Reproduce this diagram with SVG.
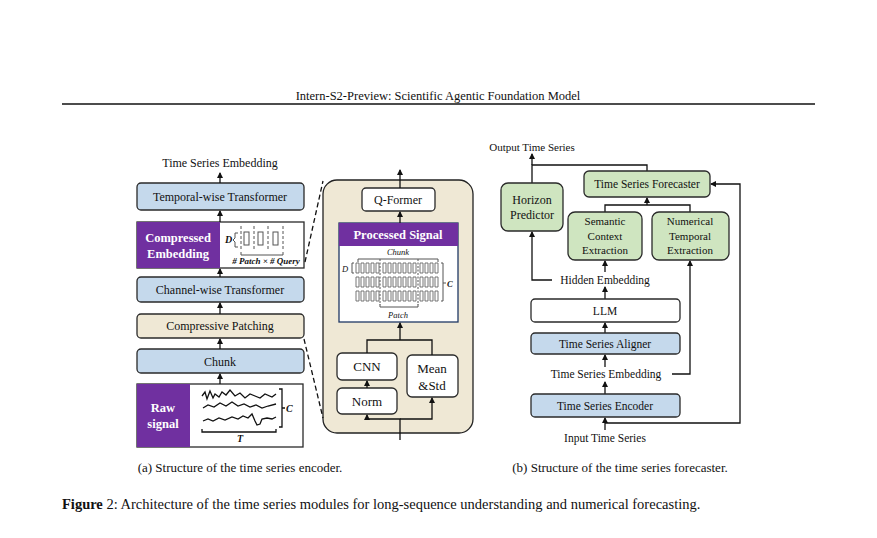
<svg xmlns="http://www.w3.org/2000/svg" width="877" height="538" viewBox="0 0 877 538">
<style>
text{font-family:"Liberation Serif",serif;fill:#111}
.t{font-size:12px;text-anchor:middle}
.b{stroke:#2a2a2a;stroke-width:1.3}
.blue{fill:#c5d9ec}
.bei{fill:#efe8d5}
.grn{fill:#cfe5c0}
.wh{fill:#fff}
.pur{fill:#7030a0}
.ln{fill:none;stroke:#111;stroke-width:1.3}
.sq{fill:none;stroke:#555;stroke-width:1}
.wt{fill:#fff;font-weight:bold;font-size:12.5px;text-anchor:middle}
</style>
<defs><marker id="a" markerWidth="6" markerHeight="6" refX="5" refY="3" orient="auto" markerUnits="userSpaceOnUse"><path d="M0,0 L6,3 L0,6z" fill="#111"/></marker></defs>
<rect width="877" height="538" fill="#fff"/>
<text x="438" y="100" class="t" style="font-size:12.5px">Intern-S2-Preview: Scientific Agentic Foundation Model</text>
<line x1="62" y1="104" x2="815" y2="104" stroke="#111" stroke-width="1.5"/>

<g id="left">
<text x="220" y="167" class="t">Time Series Embedding</text>
<g id="temporal"><rect class="b blue" x="137" y="183" width="167" height="27" rx="4"/><text x="220" y="201" class="t">Temporal-wise Transformer</text></g>
<g id="compressed"><rect class="b wh" x="137" y="222" width="167" height="46" stroke="#1f3864"/><rect class="pur" x="137" y="222" width="83" height="46"/>
<text x="178" y="242" class="wt">Compressed</text><text x="178" y="258" class="wt">Embedding</text>
<text x="225" y="243" style="font-size:10px;font-style:italic;font-weight:bold">D</text>
<path class="sq" d="M238,233 h-3 v5 l-2,2 l2,2 v5 h3"/>
<g class="sq" stroke-dasharray="3,2"><line x1="241" y1="226" x2="241" y2="250"/><line x1="254" y1="226" x2="254" y2="250"/><line x1="268" y1="226" x2="268" y2="250"/><line x1="283" y1="226" x2="283" y2="250"/></g>
<rect class="sq" x="244" y="232" width="5" height="13"/><rect class="sq" x="258" y="232" width="5" height="13"/><rect class="sq" x="273" y="232" width="5" height="13"/>
<path class="sq" d="M241,252 v3 h42 v-3"/>
<text x="266" y="264" class="t" style="font-size:9px;font-style:italic;font-weight:bold"># Patch × # Query</text></g>
<g id="channel"><rect class="b blue" x="137" y="277" width="167" height="25" rx="4"/><text x="220" y="294" class="t">Channel-wise Transformer</text></g>
<g id="patching"><rect class="b bei" x="137" y="314" width="167" height="24" rx="4"/><text x="220" y="330" class="t">Compressive Patching</text></g>
<g id="chunk"><rect class="b blue" x="137" y="349" width="167" height="24" rx="4"/><text x="220" y="366" class="t">Chunk</text></g>
<g id="raw"><rect class="b wh" x="137" y="384" width="166" height="63" stroke="#1f3864"/><rect class="pur" x="137" y="384" width="53" height="63"/>
<text x="163" y="412" class="wt">Raw</text><text x="163" y="428" class="wt">signal</text>
<polyline class="ln" stroke-width="1.2" points="202,396 205,392 207,399 210,391 213,398 215,394 219,397 222,392 226,395 230,390 235,396 240,393 245,398 250,394 255,396 260,398 265,394 272,397 276,394"/>
<polyline class="ln" stroke-width="1.2" points="203,408 208,405 214,407 220,403 226,406 232,402 238,406 244,404 250,407 256,405 262,408 268,406 276,404"/>
<polyline class="ln" stroke-width="1.2" points="203,421 208,419 213,421 219,418 225,420 232,417 238,419 243,416 248,418 252,414 255,421 257,425 260,424 262,419 267,418 272,419 276,417"/>
<path class="ln" stroke-width="1" d="M279,389 h3 v38 h-3 M282,408 h3"/>
<text x="286" y="412" style="font-size:10px;font-style:italic;font-weight:bold">C</text>
<path class="ln" stroke-width="1" d="M202,429 v3 h74 v-3"/>
<text x="240" y="442" class="t" style="font-size:10px;font-style:italic;font-weight:bold">T</text></g>
</g>

<g id="right-panel">
<rect x="323" y="180" width="150" height="253" rx="14" class="bei" stroke="#222" stroke-width="1.3"/>
<g id="qformer"><rect class="b wh" x="362" y="188" width="73" height="23" rx="4"/><text x="398" y="204" class="t">Q-Former</text></g>
<g id="processed"><rect x="339" y="223" width="119" height="99" class="wh" stroke="#1f3864" stroke-width="1.3"/><rect class="pur" x="339" y="223" width="119" height="23"/>
<text x="398" y="239" class="wt">Processed Signal</text>
<text x="398" y="255" class="t" style="font-size:8.5px;font-style:italic">Chunk</text>
<path class="sq" d="M358,262 v-3 h80 v3"/>
<text x="342" y="272" style="font-size:8.5px;font-style:italic">D</text>
<path class="sq" d="M354,263 h-2 v10 h2"/>
<g class="sq" stroke-dasharray="2,1.5"><line x1="380" y1="259" x2="380" y2="305"/><line x1="418" y1="259" x2="418" y2="305"/></g>
<g id="cells" fill="none" stroke="#666" stroke-width="0.9">
<path d="M356,263h3v10h-3zM361,263h3v10h-3zM366,263h3v10h-3zM371,263h3v10h-3zM376,263h3v10h-3zM383,263h3v10h-3zM388,263h3v10h-3zM393,263h3v10h-3zM398,263h3v10h-3zM403,263h3v10h-3zM408,263h3v10h-3zM413,263h3v10h-3zM420,263h3v10h-3zM425,263h3v10h-3zM430,263h3v10h-3zM435,263h3v10h-3z"/>
<path d="M356,277h3v10h-3zM361,277h3v10h-3zM366,277h3v10h-3zM371,277h3v10h-3zM376,277h3v10h-3zM383,277h3v10h-3zM388,277h3v10h-3zM393,277h3v10h-3zM398,277h3v10h-3zM403,277h3v10h-3zM408,277h3v10h-3zM413,277h3v10h-3zM420,277h3v10h-3zM425,277h3v10h-3zM430,277h3v10h-3zM435,277h3v10h-3z"/>
<path d="M356,291h3v10h-3zM361,291h3v10h-3zM366,291h3v10h-3zM371,291h3v10h-3zM376,291h3v10h-3zM383,291h3v10h-3zM388,291h3v10h-3zM393,291h3v10h-3zM398,291h3v10h-3zM403,291h3v10h-3zM408,291h3v10h-3zM413,291h3v10h-3zM420,291h3v10h-3zM425,291h3v10h-3zM430,291h3v10h-3zM435,291h3v10h-3z"/>
</g>
<path class="sq" d="M441,263 h2 v38 h-2 M443,283 h3"/>
<text x="447" y="287" style="font-size:8.5px;font-style:italic;font-weight:bold">C</text>
<path class="sq" d="M380,304 v3 h38 v-3"/>
<text x="398" y="318" class="t" style="font-size:8.5px;font-style:italic">Patch</text></g>
<g id="cnn"><rect class="b wh" x="337" y="353" width="60" height="27" rx="5"/><text x="367" y="371" class="t" style="font-size:13px">CNN</text></g>
<g id="norm"><rect class="b wh" x="337" y="388" width="60" height="26" rx="5"/><text x="367" y="406" class="t" style="font-size:13px">Norm</text></g>
<g id="meanstd"><rect class="b wh" x="407" y="355" width="51" height="42" rx="5"/><text x="432" y="373" class="t" style="font-size:13px">Mean</text><text x="432" y="390" class="t" style="font-size:13px">&amp;Std</text></g>
</g>

<g id="connectors">
<line class="ln" x1="220" y1="183" x2="220" y2="173" marker-end="url(#a)"/>
<line class="ln" x1="220" y1="222" x2="220" y2="211" marker-end="url(#a)"/>
<line class="ln" x1="220" y1="277" x2="220" y2="269" marker-end="url(#a)"/>
<line class="ln" x1="220" y1="314" x2="220" y2="303" marker-end="url(#a)"/>
<line class="ln" x1="220" y1="349" x2="220" y2="339" marker-end="url(#a)"/>
<line class="ln" x1="220" y1="384" x2="220" y2="374" marker-end="url(#a)"/>
<line x1="305" y1="262" x2="323" y2="181" stroke="#111" stroke-width="1.3" stroke-dasharray="5,3"/>
<line x1="304" y1="339" x2="323" y2="418" stroke="#111" stroke-width="1.3" stroke-dasharray="5,3"/>
<line class="ln" x1="400" y1="188" x2="400" y2="170" marker-end="url(#a)"/>
<line class="ln" x1="400" y1="223" x2="400" y2="212" marker-end="url(#a)"/>
<path class="ln" d="M367,353 V340 H432 V355"/>
<line class="ln" x1="400" y1="340" x2="400" y2="323" marker-end="url(#a)"/>
<line class="ln" x1="367" y1="388" x2="367" y2="381" marker-end="url(#a)"/>
<path class="ln" d="M400,440 V419 H367 V415" marker-end="url(#a)"/>
<path class="ln" d="M400,419 H432 V398" marker-end="url(#a)"/>

<path class="ln" d="M532,183 V165 H647 V171"/>
<line class="ln" x1="532" y1="165" x2="532" y2="154" marker-end="url(#a)"/>
<path class="ln" d="M605,212 V205 H690 V212"/>
<line class="ln" x1="647" y1="205" x2="647" y2="198" marker-end="url(#a)"/>
<line class="ln" x1="605" y1="272" x2="605" y2="261" marker-end="url(#a)"/>
<path class="ln" d="M552,280 H532 V232" marker-end="url(#a)"/>
<line class="ln" x1="605" y1="299" x2="605" y2="287" marker-end="url(#a)"/>
<line class="ln" x1="605" y1="333" x2="605" y2="323" marker-end="url(#a)"/>
<line class="ln" x1="605" y1="367" x2="605" y2="355" marker-end="url(#a)"/>
<path class="ln" d="M672,374 H690 V261" marker-end="url(#a)"/>
<line class="ln" x1="605" y1="394" x2="605" y2="382" marker-end="url(#a)"/>
<line class="ln" x1="605" y1="430" x2="605" y2="418" marker-end="url(#a)"/>
<path class="ln" d="M605,423 H740 V184 H711" marker-end="url(#a)"/>
</g>

<g id="forecaster-diagram">
<text x="532" y="151" class="t" style="font-size:11px">Output Time Series</text>
<g id="horizon"><rect class="b grn" x="501" y="183" width="62" height="48" rx="7"/><text x="532" y="204" class="t">Horizon</text><text x="532" y="219" class="t">Predictor</text></g>
<g id="forecaster"><rect class="b grn" x="584" y="171" width="126" height="26" rx="5"/><text x="647" y="188" class="t" style="font-size:11.5px">Time Series Forecaster</text></g>
<g id="semantic"><rect class="b grn" x="568" y="212" width="74" height="48" rx="7"/><text x="605" y="225" class="t" style="font-size:11px">Semantic</text><text x="605" y="240" class="t" style="font-size:11px">Context</text><text x="605" y="254" class="t" style="font-size:11px">Extraction</text></g>
<g id="numerical"><rect class="b grn" x="652" y="212" width="77" height="48" rx="7"/><text x="690" y="225" class="t" style="font-size:11px">Numerical</text><text x="690" y="240" class="t" style="font-size:11px">Temporal</text><text x="690" y="254" class="t" style="font-size:11px">Extraction</text></g>
<text x="605" y="284" class="t" style="font-size:11.5px">Hidden Embedding</text>
<g id="llm"><rect class="b wh" x="531" y="299" width="149" height="23" rx="4"/><text x="605" y="315" class="t" style="font-size:11.5px">LLM</text></g>
<g id="aligner"><rect class="b blue" x="531" y="333" width="149" height="21" rx="4"/><text x="605" y="348" class="t" style="font-size:11.5px">Time Series Aligner</text></g>
<text x="606" y="378" class="t" style="font-size:11.5px">Time Series Embedding</text>
<g id="encoder"><rect class="b blue" x="531" y="394" width="149" height="23" rx="4"/><text x="605" y="410" class="t" style="font-size:11.5px">Time Series Encoder</text></g>
<text x="605" y="442" class="t" style="font-size:11.5px">Input Time Series</text>
</g>

<text x="240" y="472" class="t" style="font-size:13px">(a) Structure of the time series encoder.</text>
<text x="620" y="472" class="t" style="font-size:13px">(b) Structure of the time series forecaster.</text>
<text x="62" y="509" style="font-size:14.5px"><tspan font-weight="bold">Figure</tspan> 2: Architecture of the time series modules for long-sequence understanding and numerical forecasting.</text>
</svg>
